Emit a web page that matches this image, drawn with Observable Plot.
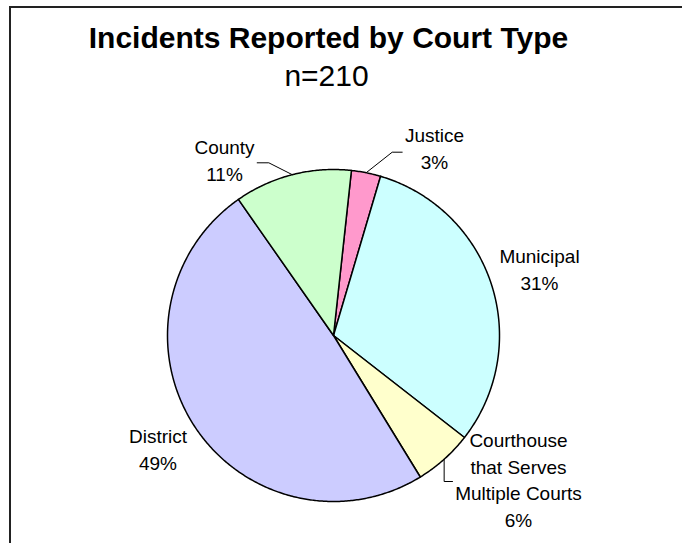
<!DOCTYPE html>
<html>
<head>
<meta charset="utf-8">
<script src="https://cdn.jsdelivr.net/npm/d3@7"></script>
<script src="https://cdn.jsdelivr.net/npm/@observablehq/plot@0.6"></script>
<style>
  html, body { margin: 0; padding: 0; background: #fff; }
  #chart { position: relative; width: 682px; height: 543px; overflow: hidden; }
  #chart::after {
    content: ""; position: absolute; left: 9px; top: 6px; width: 900px; height: 900px;
    border-left: 2px solid #222; border-top: 2px solid #222; pointer-events: none;
  }
</style>
</head>
<body>
<div id="chart"></div>
<script>
// ---- data ----
const title = "Incidents Reported by Court Type";
const subtitle = "n=210";
const categories = ["Justice", "Municipal", "Courthouse that Serves Multiple Courts", "District", "County"];
const labelNames = ["Justice", "Municipal", "Courthouse\nthat Serves\nMultiple Courts", "District", "County"];
const counts = [6, 65, 12, 103, 24];

// ---- style / layout ----
const colors = ["#FF99CC", "#CCFFFF", "#FFFFCC", "#CCCCFF", "#CCFFCC"];
const W = 682, H = 543;
const cx = 333, cy = 335, R = 166, startDeg = 6.2;
const labelX = [434, 539, 518, 157.5, 224];
const labelY = [168.3, 289.3, 526.5, 469, 180.5];
// leader line elbows (null x = same x as the slice edge point)
const leaders = {
  "Justice": [[391.7, 151.7], [401.7, 151.7]],
  "County": [[268.3, 162.3], [256.7, 162.3]],
  "Courthouse that Serves Multiple Courts": [[null, 481], [452, 481]]
};
const FONT = "'Liberation Sans', Arial, Helvetica, sans-serif";

// ---- geometry derived from data ----
const total = d3.sum(counts);
const a0 = startDeg * Math.PI / 180;
const arcs = d3.pie().sort(null).startAngle(a0).endAngle(a0 + 2 * Math.PI)(counts);
const pt = (a, r = R) => [cx + r * Math.sin(a), cy - r * Math.cos(a)];

const slicePts = [];
arcs.forEach((a, i) => {
  const n = Math.max(4, Math.ceil((a.endAngle - a.startAngle) / (Math.PI / 360)));
  slicePts.push({cat: categories[i], x: cx, y: cy});
  for (let k = 0; k <= n; k++) {
    const t = a.startAngle + (a.endAngle - a.startAngle) * k / n;
    const [x, y] = pt(t);
    slicePts.push({cat: categories[i], x, y});
  }
});

const labels = categories.map((c, i) => ({
  cat: c,
  text: labelNames[i] + "\n" + Math.round(counts[i] / total * 100) + "%",
  x: labelX[i],
  y: labelY[i]
}));

const leaderPts = [];
arcs.forEach((a, i) => {
  const el = leaders[categories[i]];
  if (!el) return;
  const mid = (a.startAngle + a.endAngle) / 2;
  const [sx, sy] = pt(mid);
  leaderPts.push({cat: categories[i], x: sx, y: sy});
  el.forEach(([x, y]) => leaderPts.push({cat: categories[i], x: x == null ? sx : x, y}));
});

const chart = Plot.plot({
  width: W,
  height: H,
  margin: 0,
  x: {domain: [0, W], range: [0, W], axis: null},
  y: {domain: [0, H], range: [0, H], axis: null},
  color: {domain: categories, range: colors},
  style: {fontFamily: FONT, background: "#fff"},
  marks: [
    Plot.line(slicePts, {x: "x", y: "y", z: "cat", fill: "cat", stroke: "#000", strokeWidth: 1.5, curve: "linear-closed", strokeLinejoin: "round"}),
    Plot.line(leaderPts, {x: "x", y: "y", z: "cat", stroke: "#000", strokeWidth: 1}),
    Plot.text(labels, {x: "x", y: "y", text: "text", lineAnchor: "bottom", textAnchor: "middle", fontSize: 19, lineHeight: 1.405, fill: "#000", fontFamily: FONT}),
    Plot.text([title], {text: d => d, frameAnchor: "top", dx: -13, dy: 47, lineAnchor: "bottom", fontSize: 30, fontWeight: "bold", fill: "#000", fontFamily: FONT}),
    Plot.text([subtitle], {text: d => d, frameAnchor: "top", dx: -15, dy: 85, lineAnchor: "bottom", fontSize: 30, fill: "#000", fontFamily: FONT})
  ]
});
document.getElementById("chart").appendChild(chart);
</script>
</body>
</html>
